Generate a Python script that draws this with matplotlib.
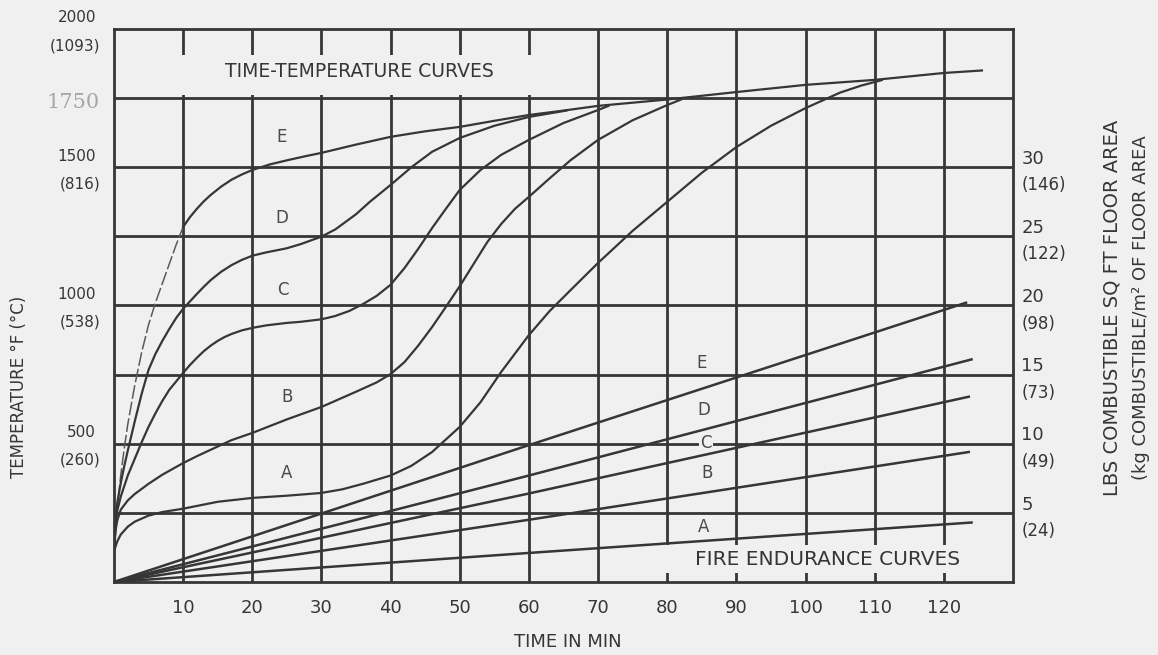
import matplotlib
matplotlib.use("Agg")
import matplotlib.pyplot as plt
from matplotlib.patches import Rectangle

bg = "#f0f0f0"
ink = "#363636"

# time-temperature curves, deg F against minutes
std_t = [0, 0.25, 0.5, 1, 1.5, 2, 3, 4, 5, 6, 7, 8, 9, 10]
std_T = [120, 200, 270, 390, 485, 570, 710, 830, 930, 1010, 1080, 1150, 1220, 1284]

e_t = [10, 11, 12, 13, 14, 15.5, 17, 18.5, 20, 22.5, 25, 27.5, 30, 35, 40, 45, 50, 55, 60, 65, 70,
       80, 90, 100, 110, 120, 125.5]
e_T = [1284, 1320, 1350, 1377, 1400, 1430, 1455, 1474, 1490, 1510, 1525, 1539, 1552, 1582, 1610,
       1630, 1646, 1668, 1689, 1705, 1722, 1745, 1772, 1798, 1816, 1841, 1850]

d_t = [0, 0.25, 0.5, 1, 1.5, 2, 3, 4, 5, 6, 7, 8, 9, 10, 11, 12, 13, 14, 15.5, 17, 18.5, 20, 22,
       25, 27, 30, 32, 35, 37, 40, 43, 46, 50, 55, 60, 65.4]
d_T = [110, 220, 290, 360, 420, 475, 580, 680, 767, 825, 872, 915, 955, 988, 1015, 1042, 1068,
       1092, 1122, 1146, 1165, 1180, 1192, 1207, 1222, 1249, 1275, 1330, 1375, 1436, 1500, 1556,
       1606, 1650, 1682, 1705]

c_t = [0, 0.25, 0.5, 1, 2, 3, 4, 5, 6, 7, 8, 10, 11, 12, 13, 14, 15, 16, 17, 18.5, 20, 22, 25,
       27, 30, 32, 34, 36, 38, 40, 42, 44, 46, 48, 50, 53, 56, 60, 65, 70, 71.5]
c_T = [110, 210, 260, 310, 385, 445, 505, 561, 610, 655, 695, 756, 785, 811, 835, 855, 872, 886,
       897, 910, 919, 928, 937, 941, 950, 962, 980, 1005, 1035, 1075, 1135, 1205, 1280, 1350, 1418,
       1490, 1545, 1599, 1660, 1707, 1722]

b_t = [0, 0.25, 0.5, 1, 2, 3, 5, 7, 10, 12, 15, 17, 20, 25, 30, 35, 38, 40, 42, 44, 46, 48, 50,
       52, 54, 56, 58, 60, 63, 66, 70, 75, 80, 82]
b_T = [110, 190, 225, 262, 295, 318, 355, 388, 430, 455, 490, 513, 539, 588, 633, 688, 722, 752,
       795, 855, 922, 995, 1070, 1150, 1230, 1295, 1350, 1393, 1460, 1525, 1599, 1670, 1725, 1745]

a_t = [0, 0.25, 0.5, 1, 2, 3, 5, 7, 10, 12, 15, 20, 25, 30, 33, 36, 40, 43, 46, 50, 53, 56, 60,
       63, 66, 70, 75, 80, 85, 90, 95, 100, 105, 108, 111]
a_T = [110, 130, 148, 172, 200, 218, 240, 253, 265, 275, 290, 304, 312, 322, 335, 355, 385, 420,
       470, 561, 650, 760, 893, 980, 1055, 1154, 1270, 1375, 1480, 1573, 1650, 1714, 1770, 1795, 1815]

# fire endurance curves, lb combustible per sq ft against minutes
fe_t = {"E": [0, 60, 123.2], "D": [0, 60, 124], "C": [0, 60, 123.6], "B": [0, 60, 123.6], "A": [0, 60, 124]}
fe_lb = {"E": [0, 9.9, 20.2], "D": [0, 7.7, 16.1], "C": [0, 6.4, 13.4], "B": [0, 4.5, 9.4], "A": [0, 2.1, 4.3]}

x_ticks = [10, 20, 30, 40, 50, 60, 70, 80, 90, 100, 110, 120]
y_grid = [250, 500, 750, 1000, 1250, 1500, 1750]
left_f = ["2000", "1500", "1000", "500"]
left_f_val = [2000, 1500, 1000, 500]
left_c = ["(1093)", "(816)", "(538)", "(260)"]
right_lb = [30, 25, 20, 15, 10, 5]
right_kg = ["(146)", "(122)", "(98)", "(73)", "(49)", "(24)"]

plt.rcParams["font.family"] = ["DejaVu Sans"]

fig = plt.figure(figsize=(11.58, 6.55), dpi=100, facecolor=bg)
ax = fig.add_axes([0.0984, 0.1115, 0.7764, 0.8442])
ax.set_facecolor(bg)
ax.set_xlim(0, 130)
ax.set_ylim(0, 2000)
ax.set_xticks(x_ticks)
ax.set_xticklabels([str(v) for v in x_ticks], fontsize=13, color=ink)
ax.set_yticks(y_grid)
ax.tick_params(length=0, labelleft=False, pad=12)
ax.grid(True, color=ink, lw=2.0)
for s in ax.spines.values():
    s.set_color(ink)
    s.set_linewidth(2.0)

# blank boxes behind the two headings
ax.add_patch(Rectangle((5.2, 1761), 60.6, 145, facecolor=bg, edgecolor="none", zorder=2))
ax.add_patch(Rectangle((76.7, 33), 53.3, 101, facecolor=bg, edgecolor="none", zorder=2))
ax.text(35.5, 1845, "TIME-TEMPERATURE CURVES", fontsize=13.5, color=ink, ha="center", va="center", zorder=3)
ax.text(103.2, 80, "FIRE ENDURANCE CURVES", fontsize=14.5, color=ink, ha="center", va="center", zorder=3)

curve_kw = dict(color=ink, lw=1.6, zorder=4)
ax.plot(std_t, std_T, color="#5a5a5a", lw=1.1, dashes=(9, 2), zorder=4)
ax.plot(e_t, e_T, **curve_kw)
ax.plot(d_t, d_T, **curve_kw)
ax.plot(c_t, c_T, **curve_kw)
ax.plot(b_t, b_T, **curve_kw)
ax.plot(a_t, a_T, **curve_kw)

lbl_kw = dict(fontsize=12, color="#4a4a4a", ha="center", va="center", zorder=3)
ax.text(24.2, 1611, "E", **lbl_kw)
ax.text(24.2, 1315, "D", **lbl_kw)
ax.text(24.4, 1056, "C", **lbl_kw)
ax.text(25.0, 670, "B", **lbl_kw)
ax.text(25.0, 393, "A", **lbl_kw)

box = dict(facecolor=bg, edgecolor="none", pad=1)
ax.text(85.0, 792, "E", bbox=box, **lbl_kw)
ax.text(85.3, 622, "D", bbox=box, **lbl_kw)
ax.text(85.6, 503, "C", bbox=box, **lbl_kw)
ax.text(85.8, 394, "B", bbox=box, **lbl_kw)
ax.text(85.3, 199, "A", bbox=box, **lbl_kw)

ax2 = ax.twinx()
ax2.set_ylim(0, 40)
ax2.axis("off")
for k in ["E", "D", "C", "B", "A"]:
    ax2.plot(fe_t[k], fe_lb[k], color=ink, lw=1.8, zorder=4)

# left scale, deg F above each line and deg C below
ytr = ax.get_yaxis_transform()
for f, fv, c in zip(left_f, left_f_val, left_c):
    ax.annotate(f, xy=(-0.02, fv), xycoords=ytr, xytext=(0, 8), textcoords="offset points",
                ha="right", va="center", fontsize=11, color=ink)
    ax.annotate(c, xy=(-0.015, fv), xycoords=ytr, xytext=(0, -12), textcoords="offset points",
                ha="right", va="center", fontsize=11, color=ink)
ax.text(-0.0155, 1733, "1750", transform=ytr, ha="right", va="center", fontsize=15,
        color="#a6a6a6", family="DejaVu Serif")

# right scale, lb/sq ft above each line and kg/m2 below
rtr = ax2.get_yaxis_transform()
for lb, kg in zip(right_lb, right_kg):
    ax2.annotate(str(lb), xy=(1.0, lb), xycoords=rtr, xytext=(6, 6),
                 textcoords="offset points", ha="left", va="center", fontsize=13, color=ink)
    ax2.annotate(kg, xy=(1.0, lb), xycoords=rtr, xytext=(6, -13),
                 textcoords="offset points", ha="left", va="center", fontsize=12, color=ink)

fig.text(0.016, 0.41, "TEMPERATURE \u00b0F (\u00b0C)", rotation=90, ha="center", va="center",
         fontsize=12, color=ink)
fig.text(0.960, 0.53, "LBS COMBUSTIBLE SQ FT FLOOR AREA", rotation=90, ha="center", va="center",
         fontsize=14, color=ink)
fig.text(0.985, 0.53, "(kg COMBUSTIBLE/m\u00b2 OF FLOOR AREA", rotation=90, ha="center", va="center",
         fontsize=13, color=ink)
fig.text(0.49, 0.02, "TIME IN MIN", ha="center", va="center", fontsize=13, color=ink)

fig.savefig("out.png", dpi=100, facecolor=bg)
